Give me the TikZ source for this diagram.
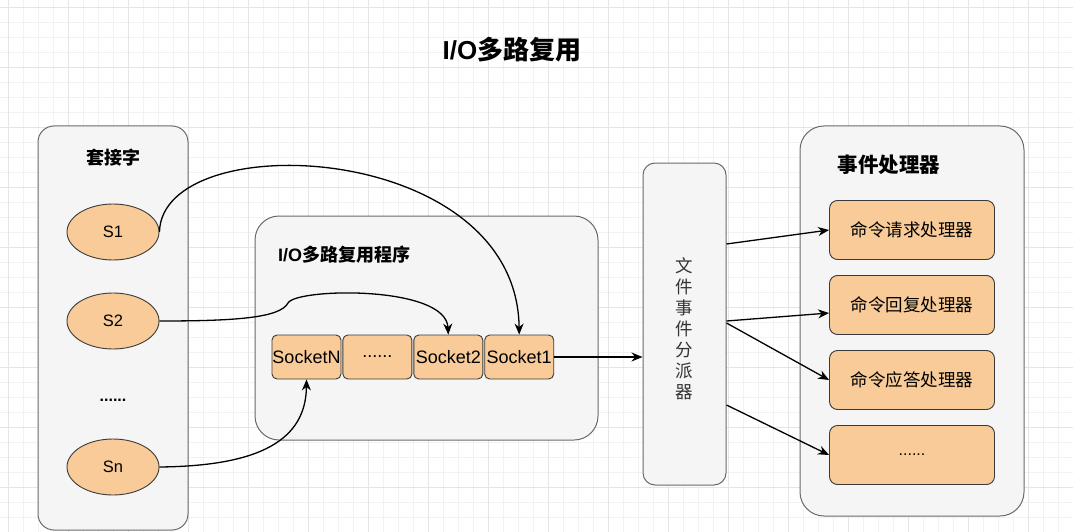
\documentclass[tikz,border=0pt]{standalone}
\usepackage{fontspec}
\setmainfont{Liberation Sans}
\newfontfamily\cjk{Noto Sans CJK SC}
\usetikzlibrary{arrows.meta,positioning}

\definecolor{boxgray}{HTML}{F5F5F5}
\definecolor{edgegray}{HTML}{6A6A6A}
\definecolor{sockorange}{HTML}{F8CB98}
\definecolor{darkedge}{HTML}{3A3A3A}

\tikzstyle{group} = [
rectangle,
rounded corners=16pt,
draw=edgegray,
line width=1pt,
fill=boxgray,
inner sep=0pt
]
\tikzstyle{sock} = [
ellipse,
minimum width=92pt,
minimum height=56pt,
draw=darkedge,
line width=0.9pt,
fill=sockorange,
font=\fontsize{16.5}{18}\selectfont
]
\tikzstyle{slot} = [
rectangle,
rounded corners=5pt,
minimum width=69pt,
minimum height=44pt,
inner sep=0pt,
draw=darkedge,
line width=0.9pt,
fill=sockorange,
font=\fontsize{18}{20}\selectfont
]
\tikzstyle{handler} = [
rectangle,
rounded corners=8pt,
minimum width=165pt,
minimum height=59pt,
draw=darkedge,
line width=0.9pt,
fill=sockorange,
font=\fontsize{17.5}{19}\selectfont\cjk
]
\tikzstyle{heading} = [
font=\fontsize{18}{20}\selectfont\bfseries\cjk
]
\tikzstyle{arrow} = [
line width=1.3pt,
->,
>={Stealth[length=11pt,width=9pt]}
]

\usetikzlibrary{shapes.geometric}

\begin{document}
\begin{tikzpicture}[
x=1pt,
y=-1pt,
node distance=75pt
]
\useasboundingbox (0,0) rectangle (1073,532);
\fill[white] (0,0) rectangle (1073,532);

% background grid
\draw[gray!10, line width=0.6pt, step=15pt, shift={(8,7)}] (-8,-7) grid (1065,525);
\draw[gray!20, line width=0.6pt, step=60pt, shift={(8,7)}] (-8,-7) grid (1065,525);

\node (title) at (512,50) {\fontsize{26}{28}\selectfont\bfseries I/O{\cjk 多路复用}};

% containers
\node (sockets) [group, minimum width=150pt, minimum height=404pt] at (113,328) {};
\node (muxprog) [group, rounded corners=24pt, minimum width=343pt, minimum height=224pt] at (426.5,328) {};
\node (dispatch) [group, rounded corners=12pt, minimum width=83pt, minimum height=322pt] at (684.5,324) {};
\node (handlers) [group, rounded corners=24pt, minimum width=224pt, minimum height=390pt] at (912,321) {};

\node (socktitle) [heading] at (113,158) {套接字};
\node (muxtitle) [font=\fontsize{18}{20}\selectfont\bfseries, anchor=west, inner sep=0pt] at (278,255) {I/O{\cjk 多路复用程序}};
\node (handtitle) [heading, font=\fontsize{20.5}{22}\selectfont\bfseries\cjk] at (889,165) {事件处理器};

\node (dispname) [align=center, text=black!80, font=\fontsize{17.5}{21}\selectfont\cjk] at (684.5,329)
{文\\件\\事\\件\\分\\派\\器};

% sockets
\node (s1) [sock] at (113,232) {S1};
\node (s2) [sock] at (113,321) {S2};
\node (sdots) [font=\fontsize{16}{18}\selectfont\bfseries] at (113,400) {......};
\node (sn) [sock] at (113,467) {Sn};

% socket queue
\node (sockN) [slot] at (306.5,357) {SocketN};
\node (sockdots) [slot, right=1pt of sockN] {......};
\node (sock2) [slot, right=1pt of sockdots] {Socket2};
\node (sock1) [slot, right=1pt of sock2] {Socket1};

% event handlers
\node (req) [handler] at (912,230) {命令请求处理器};
\node (rep) [handler, below of=req] {命令回复处理器};
\node (ans) [handler, below of=rep] {命令应答处理器};
\node (more) [handler, below of=ans, font=\fontsize{16}{18}\selectfont] {......};

\draw [arrow] (s1.east) .. controls (162,125) and (517,140) .. (sock1.north);

\draw [arrow] (s2.east) .. controls (235,321) and (280,318) .. (288,303)
.. controls (296,288) and (446,285) .. (sock2.north);

\draw [arrow] (sn.east) .. controls (260,466) and (306,440) .. (sockN.south);

\draw [arrow] (sock1.east) -- (sock1.east -| dispatch.west);

\draw [arrow] ([yshift=80pt]dispatch.east) -- (req.west);

\draw [arrow] ([yshift=3pt]dispatch.east) -- ([yshift=-8pt]rep.west);

\draw [arrow] ([yshift=1pt]dispatch.east) -- (ans.west);

\draw [arrow] ([yshift=-81pt]dispatch.east) -- (more.west);

\end{tikzpicture}
\end{document}
